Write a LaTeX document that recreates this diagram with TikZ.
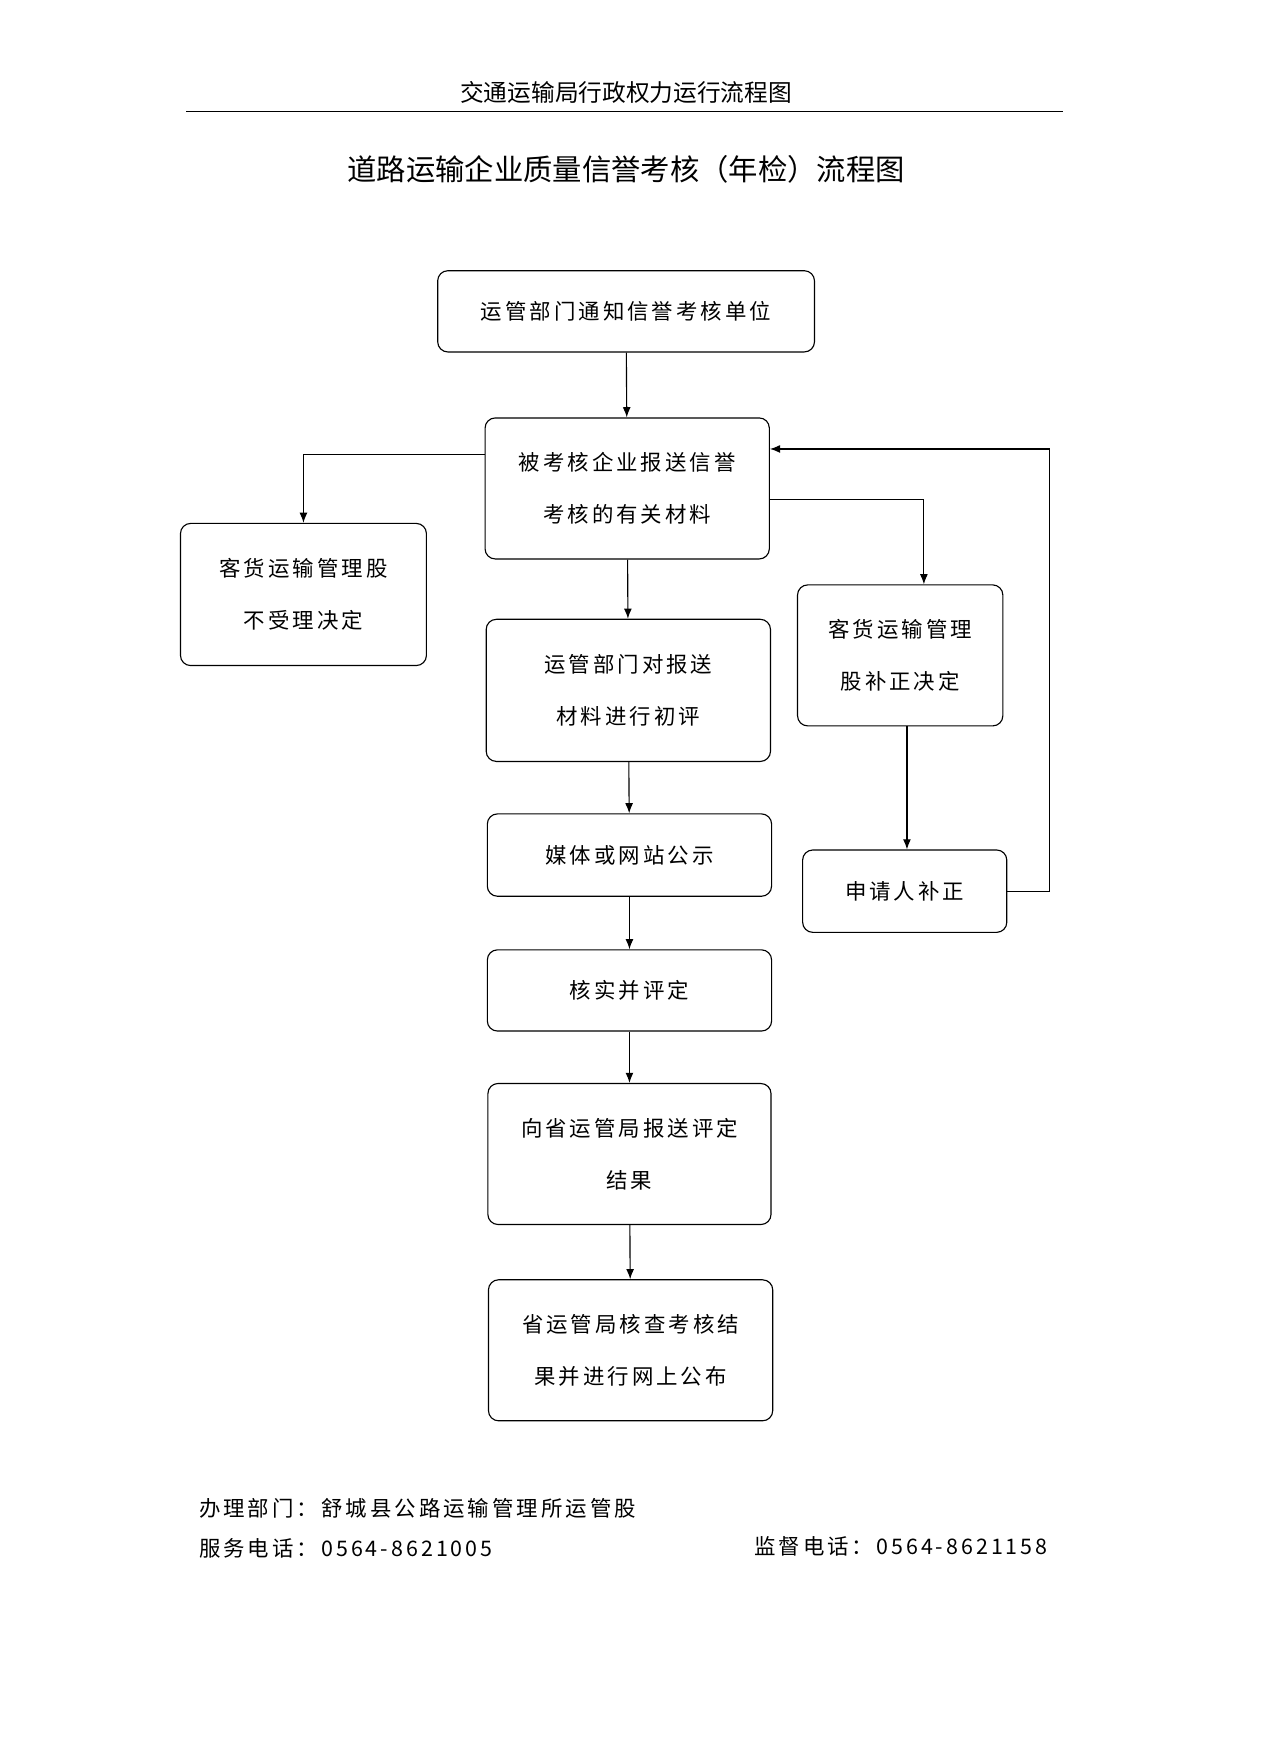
\documentclass[tikz,border=0pt]{standalone}
\usepackage{fontspec}
\setmainfont{Noto Sans CJK SC}
\newfontfamily\spaced[LetterSpace=14]{Noto Sans CJK SC}
\usetikzlibrary{arrows.meta}
\begin{document}
\begin{tikzpicture}[x=1pt,y=-1pt,
 bx/.style={draw,rounded corners=9pt,line width=1pt,align=center,font=\spaced\fontsize{19}{46}\selectfont,inner sep=0pt},
 ar/.style={-{Latex[length=9pt,width=7pt]},line width=1pt}]
\useasboundingbox (0,0) rectangle (1130,1554);
\node[font=\fontsize{21}{25}\selectfont] (h) at (555,82) {交通运输局行政权力运行流程图};
\draw[line width=1pt] (165,99) -- (942,99);
\node[font=\fontsize{26}{30}\selectfont] (t) at (555,150) {道路运输企业质量信誉考核（年检）流程图};
\node[bx,minimum width=334pt,minimum height=72pt] (b1) at (555,276) {运管部门通知信誉考核单位};
\node[bx,minimum width=252pt,minimum height=125pt] (b2) at (556,433) {被考核企业报送信誉\\考核的有关材料};
\node[bx,minimum width=218pt,minimum height=126pt] (l) at (269,527) {客货运输管理股\\不受理决定};
\node[bx,minimum width=252pt,minimum height=126pt] (b3) at (557,612) {运管部门对报送\\材料进行初评};
\node[bx,minimum width=182pt,minimum height=125pt] (r) at (798,581) {客货运输管理\\股补正决定};
\node[bx,minimum width=252pt,minimum height=73pt] (b4) at (558,758) {媒体或网站公示};
\node[bx,minimum width=181pt,minimum height=73pt] (b5) at (802,790) {申请人补正};
\node[bx,minimum width=252pt,minimum height=72pt] (b6) at (558,878) {核实并评定};
\node[bx,minimum width=251pt,minimum height=125pt] (b7) at (558,1023) {向省运管局报送评定\\结果};
\node[bx,minimum width=252pt,minimum height=125pt] (b8) at (559,1197) {省运管局核查考核结\\果并进行网上公布};
\draw[ar] (b1) -- (b2);
\draw[ar] (b2) -- (b3);
\draw[ar] (b3) -- (b4);
\draw[ar] (b4) -- (b6);
\draw[ar] (b6) -- (b7);
\draw[ar] (b7) -- (b8);
\draw[ar] (b2.west |- 0,403) -| (l.north);
\draw[ar] (b2.east |- 0,443) -| (r.north -| 819,0);
\draw[ar] (r.south -| 804,0) -- (b5.north -| 804,0);
\draw[ar] (b5.east) -| (930,398) -- (b2.east |- 0,398);
\node[anchor=west,font=\spaced\fontsize{19}{23}\selectfont] (f1) at (173,1337) {办理部门：舒城县公路运输管理所运管股};
\node[anchor=west,font=\spaced\fontsize{19}{23}\selectfont] (f2) at (173,1373) {服务电话：0564-8621005};
\node[anchor=west,font=\spaced\fontsize{19}{23}\selectfont] (f3) at (665,1371) {监督电话：0564-8621158};
\end{tikzpicture}
\end{document}
